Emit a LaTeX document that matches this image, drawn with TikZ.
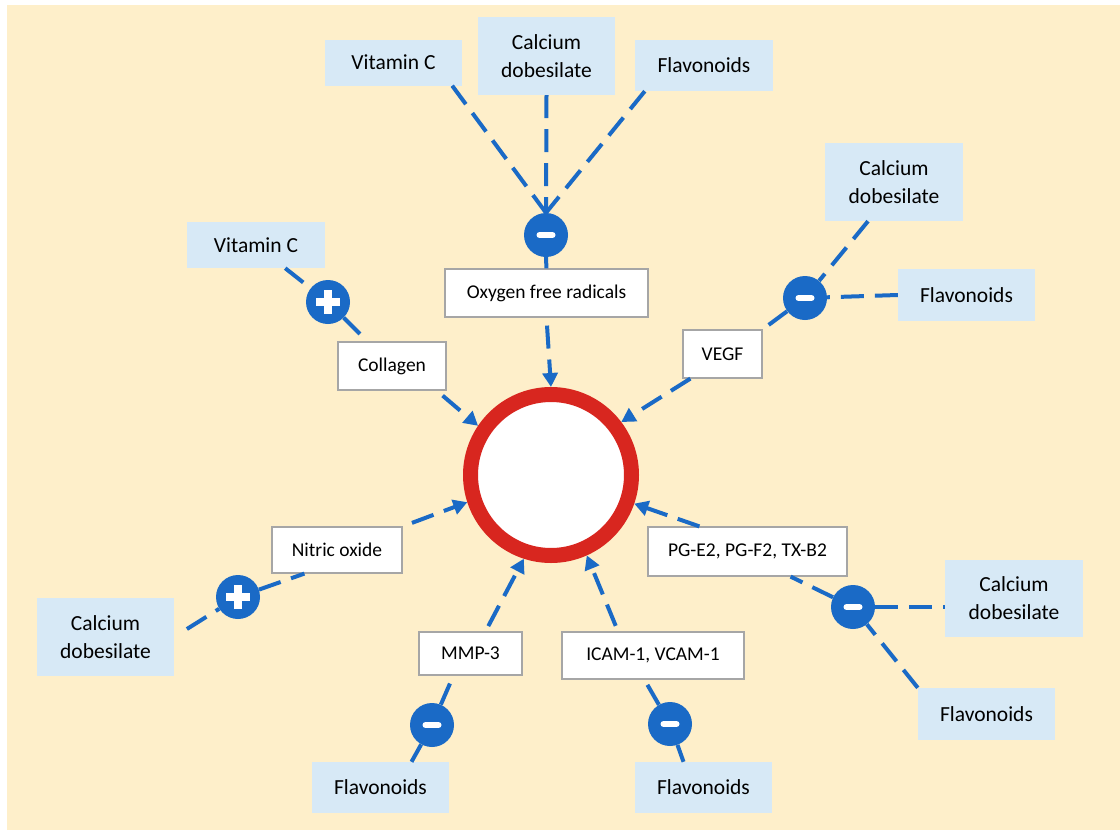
\documentclass[tikz,border=0pt]{standalone}
\usepackage{fontspec}
\setmainfont{Carlito}
\usetikzlibrary{arrows.meta}
\definecolor{bgY}{HTML}{FEEFCA}
\definecolor{boxB}{HTML}{D7E9F6}
\definecolor{blueC}{HTML}{1A6AC6}
\definecolor{ringR}{HTML}{D8261F}
\definecolor{edgeG}{HTML}{A6A6A6}
\tikzset{
  agent/.style={fill=boxB, draw=none, inner sep=0pt, align=center, font=\fontsize{21.5}{28}\selectfont},
  factor/.style={fill=white, draw=edgeG, line width=1.2pt, inner sep=0pt, align=center, font=\fontsize{19.5}{24}\selectfont},
  sign/.style={circle, fill=blueC, draw=none, minimum size=44pt, inner sep=0pt},
  inhib/.style={sign, path picture={\draw[white,line width=6pt,line cap=round] ([xshift=-6.5pt]path picture bounding box.center) -- ([xshift=6.5pt]path picture bounding box.center);}},
  promo/.style={sign, path picture={\draw[white,line width=8pt] ([xshift=-12pt]path picture bounding box.center) -- ([xshift=12pt]path picture bounding box.center) ([yshift=-12pt]path picture bounding box.center) -- ([yshift=12pt]path picture bounding box.center);}},
  conn/.style={draw=blueC, line width=4pt, dash pattern=on 23pt off 11pt},
  arr/.style={conn, -{Triangle[length=14pt,width=15pt]}},
}
\begin{document}
\begin{tikzpicture}[x=1pt,y=-1pt]
\useasboundingbox (0,0) rectangle (1120,830);
\fill[white] (0,0) rectangle (1120,830);
\fill[bgY] (7,5) rectangle (1120,830);

% central vessel
\node[circle, draw=ringR, line width=15pt, fill=white, minimum size=161pt, inner sep=0pt] (ring) at (551,475) {};

% agent boxes
\node[agent, minimum width=137pt, minimum height=46pt] (vcT) at (393.5,62.5) {Vitamin C};
\node[agent, minimum width=137pt, minimum height=78pt] (cdT) at (546.5,56) {Calcium\\dobesilate};
\node[agent, minimum width=138pt, minimum height=51pt] (flT) at (704,65.5) {Flavonoids};
\node[agent, minimum width=138pt, minimum height=46pt] (vcL) at (256,245) {Vitamin C};
\node[agent, minimum width=138pt, minimum height=78pt] (cdR) at (894,182) {Calcium\\dobesilate};
\node[agent, minimum width=137pt, minimum height=52pt] (flR) at (966.5,295) {Flavonoids};
\node[agent, minimum width=137pt, minimum height=78pt] (cdBL) at (105.5,637) {Calcium\\dobesilate};
\node[agent, minimum width=138pt, minimum height=77pt] (cdBR) at (1014,598.5) {Calcium\\dobesilate};
\node[agent, minimum width=137pt, minimum height=52pt] (flBR) at (986.5,714) {Flavonoids};
\node[agent, minimum width=137pt, minimum height=51pt] (flBL) at (380.5,787.5) {Flavonoids};
\node[agent, minimum width=137pt, minimum height=51pt] (flBM) at (703.5,787.5) {Flavonoids};

% factor boxes
\node[factor, minimum width=203pt, minimum height=48pt] (oxy) at (546.5,293) {Oxygen free radicals};
\node[factor, minimum width=108pt, minimum height=48pt] (coll) at (392,366) {Collagen};
\node[factor, minimum width=79pt, minimum height=48pt] (vegf) at (722.5,354) {VEGF};
\node[factor, minimum width=130pt, minimum height=46pt] (nitric) at (337,550) {Nitric oxide};
\node[factor, minimum width=199pt, minimum height=49pt] (pg) at (747.5,551.5) {PG-E2, PG-F2, TX-B2};
\node[factor, minimum width=103pt, minimum height=43pt] (mmp) at (470.5,653.5) {MMP-3};
\node[factor, minimum width=182pt, minimum height=47pt] (icam) at (653,655.5) {ICAM-1, VCAM-1};

% signs
\node[inhib] (mT) at (546,235) {};
\node[promo] (pL) at (328,302) {};
\node[inhib] (mR) at (805,298) {};
\node[promo] (pBL) at (238,597) {};
\node[inhib] (mBR) at (853,607) {};
\node[inhib] (mBL) at (432,725) {};
\node[inhib] (mBM) at (670,724) {};

% top group
\draw[conn] ([xshift=-10pt]vcT.south east) -- (mT.north);
\draw[conn] (cdT.south) -- (mT.north);
\draw[conn] ([xshift=10pt]flT.south west) -- (mT.north);
\draw[conn] (mT) -- (oxy);
\draw[arr, shorten <=8pt] (oxy.south) -- (ring.90);

% left group
\draw[conn] ([xshift=-40pt]vcL.south east) -- (pL);
\draw[conn] (pL) -- ([xshift=30pt]coll.north west);
\draw[arr] ([xshift=-4pt,yshift=-5pt]coll.south east) -- (ring.146);

% right group
\draw[conn] ([xshift=-26pt]cdR.south) -- (mR);
\draw[conn] (flR.west) -- (mR);
\draw[conn] (mR) -- (vegf.north east);
\draw[arr] ([xshift=8pt]vegf.south west) -- (ring.37);

% nitric oxide group
\draw[conn, shorten <=15pt] (cdBL.east) -- (pBL);
\draw[conn] (pBL) -- ([xshift=33pt]nitric.south west);
\draw[arr, shorten <=10pt] (nitric.north east) -- (ring.198);

% prostaglandin group
\draw[conn] (mBR.east) -- (mBR.east -| cdBR.west);
\draw[conn] (flBR.north west) -- (mBR);
\draw[conn] (mBR) -- ([xshift=-57pt]pg.south east);
\draw[arr] ([xshift=52pt]pg.north west) -- (ring.-19);

% MMP group
\draw[conn] ([xshift=31pt]flBL.north) -- (mBL);
\draw[conn] (mBL) -- ([xshift=35pt]mmp.south west);
\draw[arr, shorten <=6pt] ([xshift=15pt]mmp.north) -- (ring.252);

% ICAM group
\draw[conn] ([xshift=-20pt]flBM.north) -- (mBM);
\draw[conn] (mBM) -- ([xshift=83pt]icam.south west);
\draw[arr, shorten <=6pt] ([xshift=-35pt]icam.north) -- (ring.294);
\end{tikzpicture}
\end{document}
